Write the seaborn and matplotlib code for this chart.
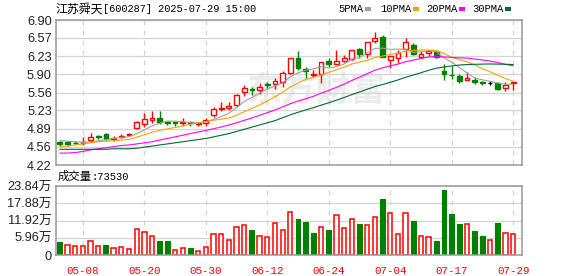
import numpy as np
import pandas as pd
import matplotlib
matplotlib.use("Agg")
import matplotlib.pyplot as plt
import seaborn as sns
from matplotlib.patches import Rectangle

# ---------------- data ----------------
title_name = "江苏舜天"
title_rest = "[600287] 2025-07-29 15:00"
tick_pos = [3, 11, 19, 27, 35, 43, 51, 59]
tick_labels = ["05-08", "05-20", "05-30", "06-12", "06-24", "07-04", "07-17", "07-29"]
price_ticks = ["4.22", "4.56", "4.89", "5.23", "5.56", "5.90", "6.23", "6.57", "6.90"]
vol_ticks = [0, 5.96, 11.92, 17.88, 23.84]
last_volume = "73530"
prev_close = 4.66

opens = [4.65, 4.64, 4.63, 4.63, 4.68, 4.75, 4.79, 4.70, 4.74, 4.78,
         4.90, 4.98, 5.05, 5.08, 5.02, 5.01, 4.99, 5.02, 4.98, 4.99,
         5.14, 5.25, 5.27, 5.32, 5.57, 5.62, 5.61, 5.71, 5.71, 5.76,
         5.92, 6.20, 5.99, 5.89, 5.90, 6.14, 6.08, 6.14, 6.18, 6.36,
         6.27, 6.51, 6.59, 6.16, 6.19, 6.37, 6.44, 6.21, 6.29, 6.30,
         5.96, 5.89, 5.87, 5.80, 5.79, 5.75, 5.74, 5.74, 5.65, 5.74]
highs = [4.66, 4.66, 4.67, 4.74, 4.81, 4.78, 4.82, 4.75, 4.80, 4.81,
         5.03, 5.19, 5.22, 5.22, 5.03, 5.02, 5.09, 5.04, 5.01, 5.09,
         5.30, 5.39, 5.39, 5.54, 5.69, 5.67, 5.73, 5.75, 5.83, 5.95,
         6.20, 6.33, 6.04, 5.97, 6.13, 6.19, 6.35, 6.25, 6.35, 6.39,
         6.50, 6.68, 6.62, 6.24, 6.35, 6.56, 6.48, 6.33, 6.33, 6.35,
         6.08, 6.05, 5.90, 5.93, 5.84, 5.78, 5.77, 5.75, 5.75, 5.76]
lows = [4.57, 4.58, 4.60, 4.59, 4.65, 4.70, 4.68, 4.67, 4.72, 4.75,
        4.89, 4.93, 4.99, 4.98, 4.96, 4.94, 4.95, 4.94, 4.94, 4.95,
        5.10, 5.22, 5.23, 5.30, 5.49, 5.51, 5.54, 5.62, 5.62, 5.66,
        5.90, 5.98, 5.83, 5.85, 5.73, 6.04, 6.07, 6.13, 6.16, 6.19,
        6.19, 6.47, 6.22, 6.01, 6.10, 6.21, 6.26, 6.21, 6.24, 6.19,
        5.79, 5.81, 5.73, 5.79, 5.72, 5.70, 5.70, 5.61, 5.59, 5.61]
closes = [4.60, 4.61, 4.62, 4.65, 4.73, 4.74, 4.70, 4.72, 4.76, 4.79,
          5.01, 5.07, 5.08, 5.01, 4.99, 5.00, 5.02, 4.99, 5.00, 5.06,
          5.25, 5.27, 5.31, 5.51, 5.64, 5.61, 5.67, 5.70, 5.78, 5.92,
          6.19, 6.02, 5.95, 5.90, 6.12, 6.08, 6.14, 6.19, 6.35, 6.27,
          6.50, 6.56, 6.22, 6.24, 6.29, 6.49, 6.27, 6.28, 6.32, 6.22,
          5.91, 5.88, 5.78, 5.82, 5.75, 5.74, 5.74, 5.62, 5.70, 5.76]
volumes = [4.5, 3.4, 3.0, 3.0, 4.8, 3.0, 3.4, 2.3, 2.7, 2.0,
           9.0, 7.9, 6.5, 4.9, 4.9, 1.6, 2.3, 2.4, 1.3, 2.7,
           7.3, 7.3, 5.1, 9.7, 10.3, 8.7, 6.5, 6.2, 11.0, 8.7,
           14.9, 12.6, 11.5, 7.7, 9.7, 8.7, 13.8, 9.3, 12.4, 10.8,
           10.3, 13.1, 19.2, 14.5, 7.2, 14.5, 11.9, 6.5, 6.2, 4.9,
           22.3, 14.0, 10.8, 10.8, 8.4, 6.6, 5.2, 11.2, 7.7, 7.353]

# moving-average values before a full window exists
ma5_head = [4.67, 4.66, 4.65, 4.64]
ma10_head = [4.56, 4.57, 4.59, 4.61, 4.63, 4.65, 4.66, 4.67, 4.68]
ma20_head = [4.44, 4.44, 4.45, 4.47, 4.50, 4.52, 4.54, 4.56, 4.58, 4.59,
             4.61, 4.63, 4.65, 4.68, 4.71, 4.74, 4.77, 4.80, 4.83]
ma30_head = [4.51, 4.51, 4.51, 4.51, 4.51, 4.51, 4.51, 4.52, 4.52, 4.52,
             4.53, 4.55, 4.57, 4.59, 4.61, 4.63, 4.65, 4.67, 4.69, 4.71,
             4.74, 4.77, 4.80, 4.84, 4.88, 4.92, 4.96, 5.00, 5.04]

# ---------------- styling ----------------
sns.set_theme(style="white")
plt.rcParams["font.family"] = ["Liberation Sans", "Noto Sans CJK SC", "DejaVu Sans"]

RED = "#ff0000"
GREEN = "#008000"
FRAME = "#999999"
GRID = "#d4d4d4"
MA_COLORS = {"5PMA": "#a0a0a0", "10PMA": "#f5a300", "20PMA": "#ff00ff", "30PMA": "#006a35"}

W, H = 578, 276
fig = plt.figure(figsize=(W / 100, H / 100), dpi=100)


def box(l, t, r, b):
    return [l / W, 1 - b / H, (r - l) / W, (b - t) / H]


ax = fig.add_axes(box(56, 20, 522, 165))
axv = fig.add_axes(box(56, 186, 522, 255))

n = len(closes)
idx = np.arange(n)
df = pd.DataFrame({"i": idx, "open": opens, "high": highs, "low": lows,
                   "close": closes, "volume": volumes})


def moving(win, head):
    m = df["close"].rolling(win).mean().to_numpy()
    m[:len(head)] = head
    return m


df["5PMA"] = moving(5, ma5_head)
df["10PMA"] = moving(10, ma10_head)
df["20PMA"] = moving(20, ma20_head)
df["30PMA"] = moving(30, ma30_head)

prev = np.concatenate([[prev_close], df["close"].to_numpy()[:-1]])
df["vol_up"] = df["close"].to_numpy() >= prev

# watermark
ax.text(0.56, 0.52, "东方财富", transform=ax.transAxes, ha="center", va="center",
        fontsize=25, fontweight="bold", color="#ececec", family=["Noto Sans CJK SC"], zorder=0)

# grids
for axis in (ax, axv):
    for x in tick_pos:
        axis.axvline(x, color=GRID, lw=0.9, ls=(0, (4, 4)), zorder=0.5)
for v in price_ticks:
    ax.axhline(float(v), color=GRID, lw=0.9, zorder=0.5)
for v in vol_ticks:
    axv.axhline(v, color=GRID, lw=0.9, zorder=0.5)

# candles
bw = 0.62
for r in df.itertuples():
    o, c, h, l = r.open, r.close, r.high, r.low
    if c > o:
        col, face = RED, "white"
    elif c < o:
        col, face = GREEN, GREEN
    else:
        col, face = "black", "black"
    ax.vlines(r.i, l, h, color=col, lw=1.0, zorder=2)
    body = max(abs(c - o), 0.004)
    ax.add_patch(Rectangle((r.i - bw / 2, min(o, c)), bw, body, facecolor=face,
                           edgecolor=col, lw=1.0, zorder=3))

# moving averages
for name, colr in MA_COLORS.items():
    sns.lineplot(data=df, x="i", y=name, ax=ax, color=colr, lw=0.8, zorder=4,
                 estimator=None, sort=False)

# volume bars
up = df[df["vol_up"]]
dn = df[~df["vol_up"]]
axv.bar(dn["i"], dn["volume"], width=0.64, color=GREEN, edgecolor=GREEN, lw=0.8, zorder=2)
axv.bar(up["i"], up["volume"], width=0.56, facecolor="white", edgecolor=RED, lw=1.1, zorder=2)

# axes limits & ticks
for axis in (ax, axv):
    axis.set_xlim(-0.5, 60.15)
    for s in axis.spines.values():
        s.set_color(FRAME)
        s.set_linewidth(1.1)
    axis.set_xlabel("")
    axis.set_ylabel("")
    axis.tick_params(length=0)

ax.set_ylim(4.22, 6.90)
ax.set_yticks([float(v) for v in price_ticks])
ax.set_yticklabels(price_ticks, fontsize=9.2, color="#222222", family=["Liberation Sans"])
ax.tick_params(axis="y", pad=3)
ax.set_xticks([])

axv.set_ylim(0, 23.84)
axv.set_yticks(vol_ticks)
axv.set_yticklabels(["0"] + [f"{v:.2f}万" for v in vol_ticks[1:]], fontsize=9.2,
                    color="#222222", family=["Liberation Sans", "Noto Sans CJK SC"])
axv.tick_params(axis="y", pad=3)
axv.set_xticks(tick_pos)
axv.set_xticklabels(tick_labels, color=RED, fontsize=7.8, family=["Liberation Mono"])
axv.tick_params(axis="x", pad=8)

# title
fig.text(56 / W, 1 - 9.5 / H, title_name, ha="left", va="center", fontsize=8.6,
         family=["Noto Sans CJK SC"], color="black")
fig.text(103 / W, 1 - 9.5 / H, title_rest, ha="left", va="center", fontsize=7.4,
         family=["Liberation Mono"], color="black")

# legend
leg_x = {"5PMA": 338, "10PMA": 380, "20PMA": 426, "30PMA": 472}
for name, colr in MA_COLORS.items():
    x0 = leg_x[name]
    fig.text(x0 / W, 1 - 9.5 / H, name, ha="left", va="center", fontsize=7.6,
             family=["Liberation Mono"], color="black")
    wtxt = len(name) * 6.25
    fig.patches.append(Rectangle(((x0 + wtxt + 2) / W, 1 - 10.5 / H), 6 / W, 3 / H,
                                 transform=fig.transFigure, facecolor=colr, edgecolor="none"))

# volume caption
fig.text(58 / W, 1 - 176.5 / H, "成交量", ha="left", va="center", fontsize=8.2,
         family=["Noto Sans CJK SC"], color="black")
fig.text(92 / W, 1 - 176.5 / H, ":" + last_volume, ha="left", va="center", fontsize=7.6,
         family=["Liberation Mono"], color="black")

fig.savefig("out.png", dpi=100)
